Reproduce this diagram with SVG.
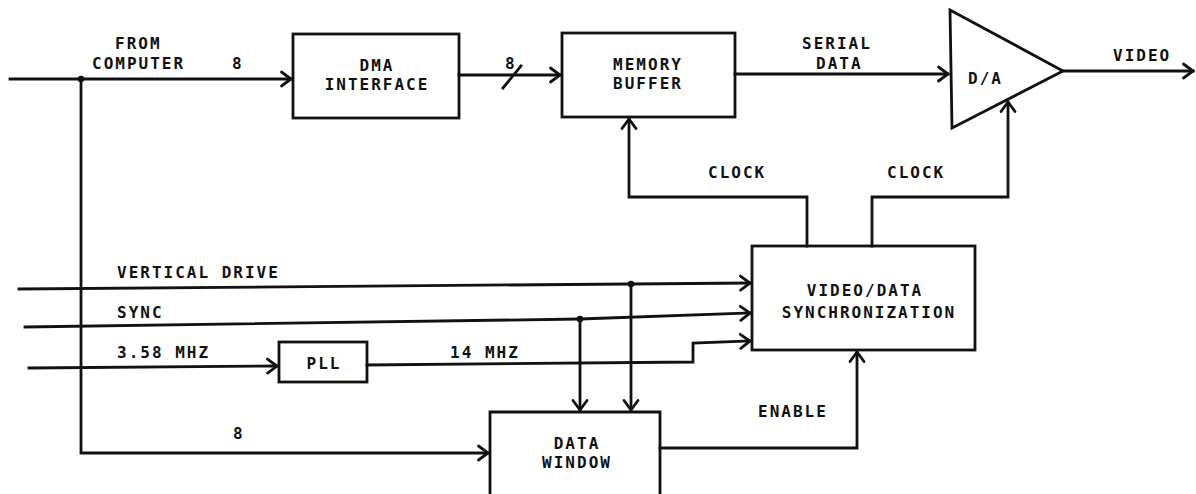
<svg xmlns="http://www.w3.org/2000/svg" width="1196" height="494" viewBox="0 0 1196 494">
<defs>
<style>
.ln{fill:none;stroke:#111;stroke-width:2.8;stroke-linejoin:miter;stroke-linecap:square}
.box{fill:none;stroke:#111;stroke-width:2.8}
.t{font-family:"DejaVu Sans Mono","Liberation Mono",monospace;font-weight:bold;font-size:16px;letter-spacing:2px;fill:#111}
.c{text-anchor:middle}
.dot{fill:#111}
</style>
<marker id="arr" markerUnits="userSpaceOnUse" markerWidth="20" markerHeight="20" orient="auto" overflow="visible" refX="0" refY="0">
<path d="M-9.5,-7 L0,0 L-9.5,7" fill="none" stroke="#111" stroke-width="2.8" stroke-linecap="round" stroke-linejoin="miter"/>
</marker>
</defs>
<rect width="1196" height="494" fill="#fff"/>

<g id="dma">
<rect class="box" x="293" y="34" width="166" height="84"/>
<text class="t c" x="377" y="71">DMA</text>
<text class="t c" x="377" y="90">INTERFACE</text>
</g>
<g id="memory">
<rect class="box" x="562" y="33" width="173" height="84"/>
<text class="t c" x="648" y="70">MEMORY</text>
<text class="t c" x="648" y="89">BUFFER</text>
</g>
<g id="da">
<path class="box" d="M950,10 L1063,71 L952,128 Z"/>
<text class="t" x="968" y="84">D/A</text>
</g>
<g id="sync">
<rect class="box" x="752" y="246" width="223" height="104"/>
<text class="t c" x="865" y="296">VIDEO/DATA</text>
<text class="t c" x="869" y="318">SYNCHRONIZATION</text>
</g>
<g id="pll">
<rect class="box" x="279" y="342" width="88" height="40"/>
<text class="t c" x="324" y="369">PLL</text>
</g>
<g id="window">
<path class="box" d="M490,497 V412 H660 V497"/>
<text class="t c" x="577" y="449">DATA</text>
<text class="t c" x="577" y="468">WINDOW</text>
</g>

<g id="connectors">
<path class="ln" d="M10,79 H291" marker-end="url(#arr)"/>
<path class="ln" d="M81,79 V453 H488" marker-end="url(#arr)"/>
<path class="ln" d="M459,75 H560" marker-end="url(#arr)"/>
<path class="ln" d="M503,88 L521,66"/>
<path class="ln" d="M735,74 H948" marker-end="url(#arr)"/>
<path class="ln" d="M1063,71 H1193" marker-end="url(#arr)"/>
<path class="ln" d="M807,246 V197 H629 V119" marker-end="url(#arr)"/>
<path class="ln" d="M872,246 V197 H1008 V102" marker-end="url(#arr)"/>
<path class="ln" d="M19,289 L750,283" marker-end="url(#arr)"/>
<path class="ln" d="M25,327 L580,319 L750,313" marker-end="url(#arr)"/>
<path class="ln" d="M29,368 L277,366" marker-end="url(#arr)"/>
<path class="ln" d="M367,365 L693,362 V343 L750,341" marker-end="url(#arr)"/>
<path class="ln" d="M631,284 V410" marker-end="url(#arr)"/>
<path class="ln" d="M580,319 V410" marker-end="url(#arr)"/>
<path class="ln" d="M660,448 H857 V352" marker-end="url(#arr)"/>
<circle class="dot" cx="81" cy="79" r="3.3"/>
<circle class="dot" cx="631" cy="284" r="3.3"/>
<circle class="dot" cx="580" cy="319" r="3.3"/>
</g>

<g id="labels">
<text class="t" x="115" y="49">FROM</text>
<text class="t" x="92" y="69">COMPUTER</text>
<text class="t" x="232" y="69">8</text>
<text class="t" x="505" y="69">8</text>
<text class="t" x="802" y="49">SERIAL</text>
<text class="t" x="816" y="69">DATA</text>
<text class="t" x="1113" y="61">VIDEO</text>
<text class="t" x="708" y="178">CLOCK</text>
<text class="t" x="887" y="178">CLOCK</text>
<text class="t" x="117" y="278">VERTICAL DRIVE</text>
<text class="t" x="117" y="318">SYNC</text>
<text class="t" x="117" y="358">3.58 MHZ</text>
<text class="t" x="450" y="358">14 MHZ</text>
<text class="t" x="233" y="439">8</text>
<text class="t" x="758" y="417">ENABLE</text>
</g>
</svg>
